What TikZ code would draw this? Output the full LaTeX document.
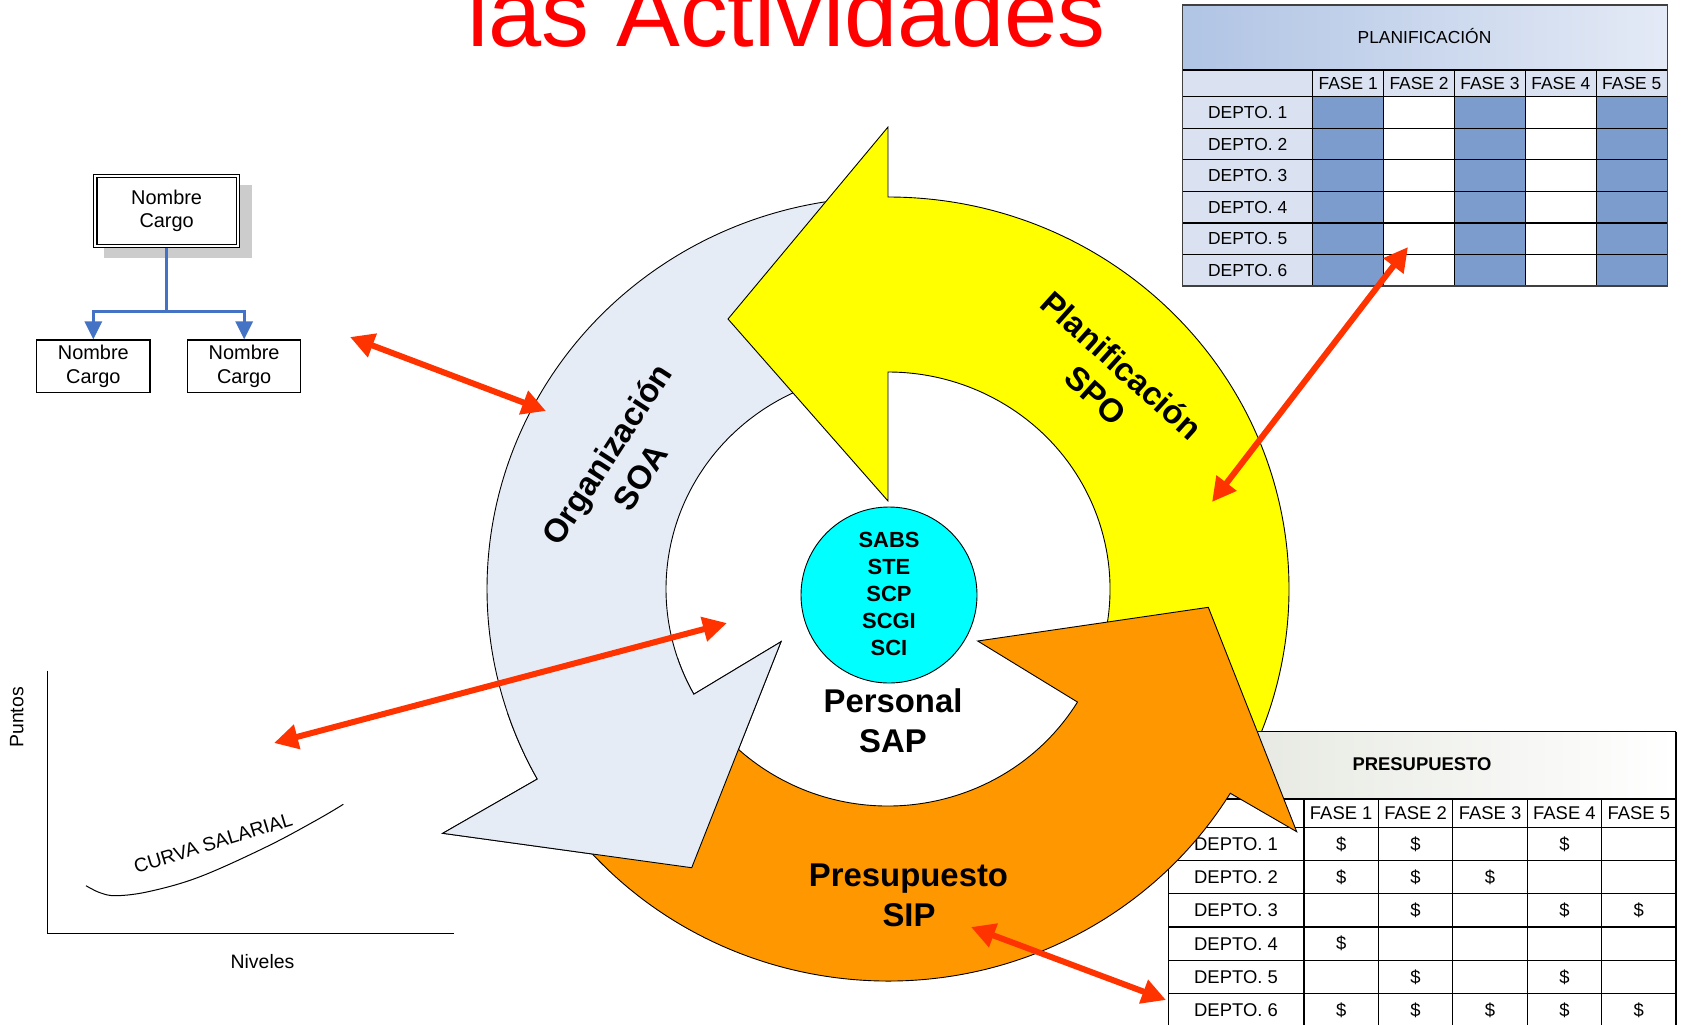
\documentclass[tikz,border=0pt]{standalone}
\usepackage{fontspec}
\setmainfont{Liberation Sans}
\usetikzlibrary{arrows.meta}
\definecolor{titlered}{RGB}{255,0,0}
\definecolor{ringblue}{RGB}{230,236,246}
\definecolor{ringyellow}{RGB}{255,255,0}
\definecolor{ringorange}{RGB}{255,152,0}
\definecolor{hubcyan}{RGB}{0,255,255}
\definecolor{linkred}{RGB}{255,51,0}
\definecolor{orgblue}{RGB}{68,114,196}
\definecolor{cellblue}{RGB}{124,156,206}
\definecolor{labelblue}{RGB}{218,226,241}
\definecolor{headblueL}{RGB}{176,196,228}
\definecolor{headblueR}{RGB}{228,234,246}
\definecolor{headgrayL}{RGB}{226,229,220}
\definecolor{shadowgray}{RGB}{204,204,204}
\newcommand{\pxfont}[1]{\fontsize{#1}{#1}\selectfont}
\begin{document}
\begin{tikzpicture}[x=1bp,y=-1bp,
  ringline/.style={draw=black, line width=0.9bp, line join=miter},
  biglabel/.style={font=\bfseries\pxfont{33}, inner sep=0pt, anchor=base},
  hublabel/.style={font=\bfseries\pxfont{22}, inner sep=0pt, anchor=base},
  link/.style={draw=linkred, line width=6bp, >={Triangle[length=24bp,width=24bp]}, <->},
  orgbox/.style={draw=black, line width=1.2bp, fill=white, minimum width=113.3bp, minimum height=52.3bp, inner sep=0pt, align=center, font=\fontsize{20}{23.5}\selectfont},
  orgline/.style={draw=orgblue, line width=3bp, -{Triangle[length=18bp,width=17bp]}},
  gridline/.style={draw=black, line width=1.2bp},
  celltext/.style={font=\pxfont{17.5}, inner sep=0pt},
  budgettext/.style={font=\pxfont{18.5}, inner sep=0pt},
  plotlabel/.style={font=\pxfont{19.5}, inner sep=0pt}
]
\useasboundingbox (0,0) rectangle (1684,1024);
\fill[white] (0,0) rectangle (1684,1024);
\clip (0,0) rectangle (1684,1024);

% ---------- title ----------
\node[font=\pxfont{96}, text=titlered, inner sep=0pt, anchor=base] (title) at (786.5,46) {las Actividades};

% ---------- org chart ----------
\fill[shadowgray] (104,185) rectangle (251.7,258.3);
\node[draw=black, line width=1.1bp, double, double distance=2bp, fill=white,
      minimum width=142.5bp, minimum height=69.5bp, inner sep=0pt, align=center,
      font=\fontsize{20}{24}\selectfont] (chief) at (166.65,210.85) {Nombre\\Cargo};
\node[orgbox] (subL) at (93.35,366.15) {Nombre\\Cargo};
\node[orgbox] (subR) at (244.15,366.15) {Nombre\\Cargo};
\coordinate (fork) at (166.65,311.7);
\draw[orgline] ([yshift=-2bp]chief.south) -- (fork) -| (subL.north);
\draw[orgline] (fork) -| (subR.north);

% ---------- salary chart ----------
\coordinate (axtop) at (47.7,670.7);
\coordinate (axorigin) at (47.7,933.3);
\coordinate (axright) at (454,933.3);
\draw[line width=1bp] (axtop) -- (axorigin) -- (axright);
\node[plotlabel, rotate=90] (ylab) at (16.7,717.5) {Puntos};
\node[plotlabel, anchor=base] (xlab) at (262.5,968.3) {Niveles};
\draw[line width=1bp] plot[smooth, tension=0.6] coordinates {(86,885.7) (100,892.7) (116.7,895.7) (150,891.3) (200,876.7) (266.7,846.7) (316.7,820) (343.3,804.3)};
\node[plotlabel, anchor=base, rotate=17] (curvelab) at (215,849.2) {CURVA SALARIAL};

% ---------- planning table ----------
\shade[left color=headblueL, right color=headblueR] (1182.7,5) rectangle (1667.3,70);
\fill[labelblue] (1182.7,70) rectangle (1667.3,96.7);
\fill[labelblue] (1182.7,96.7) rectangle (1312.7,286);
\fill[white] (1312.7,96.7) rectangle (1667.3,286);
\foreach \j in {0,2,4} \fill[cellblue] ({1312.7+70.9*\j},96.7) rectangle ({1312.7+70.9*(\j+1)},286);
\draw[gridline] (1182.7,70) -- (1667.3,70);
\foreach \i in {0,...,6} \draw[gridline] (1182.7,{96.7+31.55*\i}) -- (1667.3,{96.7+31.55*\i});
\foreach \j in {0,...,4} \draw[gridline] ({1312.7+70.9*\j},70) -- ({1312.7+70.9*\j},286);
\draw[gridline, draw=black!75] (1182.7,5) rectangle (1667.3,286);
\node[celltext, anchor=base] (planhead) at (1424.5,43.3) {PLANIFICACIÓN};
\foreach \j in {1,...,5} \node[celltext] (pf\j) at ({1312.7+70.9*(\j-0.5)},83.3) {FASE \j};
\foreach \i in {1,...,6} \node[celltext] (pd\i) at (1247.7,{96.7+31.55*(\i-0.5)}) {DEPTO. \i};

% ---------- cycle ----------
\def\bluepath{(265:401 and 392) arc[start angle=265, end angle=151, x radius=401, y radius=392] -- (-445.3,244.3) -- (-196.3,278.7) -- (-107,52.7) -- (151:222 and 217) arc[start angle=151, end angle=265, x radius=222, y radius=217] -- cycle}
\def\yellowpath{(270:401 and 392) arc[start angle=270, end angle=388, x radius=401, y radius=392] -- (28:222 and 217) arc[start angle=28, end angle=-90, x radius=222, y radius=217] -- (0,-88) -- (-160,-270) -- (0,-462) -- cycle}
\def\orangepath{(147:401 and 392) arc[start angle=147, end angle=31.4, x radius=401, y radius=392] -- (408.7,242.7) -- (320.3,18.3) -- (89.7,52) -- (31.4:222 and 217) arc[start angle=31.4, end angle=147, x radius=222, y radius=217] -- cycle}
\begin{scope}[shift={(888,589)}]
  \draw[ringline, fill=ringblue] \bluepath;
  \draw[ringline, fill=ringyellow] \yellowpath;
\end{scope}

% ---------- budget table ----------
\shade[left color=headgrayL, right color=white] (1168.3,731.7) rectangle (1676,799);
\fill[white] (1168.3,799) rectangle (1676,1030);
\draw[gridline] (1168.3,731.7) -- (1676,731.7);
\draw[gridline] (1168.3,799) -- (1676,799);
\foreach \i in {0,...,6} \draw[gridline] (1168.3,{827.3+33.25*\i}) -- (1676,{827.3+33.25*\i});
\draw[gridline] (1168.3,731.7) -- (1168.3,1030);
\draw[gridline] (1676,731.7) -- (1676,1030);
\foreach \j in {0,...,4} \draw[gridline] ({1304+74.4*\j},799) -- ({1304+74.4*\j},1030);
\node[budgettext, font=\bfseries\pxfont{18.5}] (budhead) at (1422,764) {PRESUPUESTO};
\foreach \j in {1,...,5} \node[budgettext] (bf\j) at ({1304+74.4*(\j-0.5)},813.2) {FASE \j};
\foreach \i in {1,...,6} \node[budgettext] (bd\i) at (1236,{827.3+33.25*(\i-0.5)}) {DEPTO. \i};
\foreach \r/\c in {1/1,1/2,1/4,2/1,2/2,2/3,3/2,3/4,3/5,4/1,5/2,5/4,6/1,6/2,6/3,6/4,6/5}
  \node[budgettext] (cash\r\c) at ({1304+74.4*(\c-0.5)},{827.3+33.25*(\r-0.5)}) {\$};

% ---------- cycle, front parts ----------
\begin{scope}[shift={(888,589)}]
  \draw[ringline, fill=ringorange] \orangepath;
  \begin{scope}
    \clip (0,0) -- (112:800) -- (136:900) -- (162:800) -- cycle;
    \draw[ringline, fill=ringblue] \bluepath;
  \end{scope}
\end{scope}

% ---------- hub ----------
\node[circle, draw=black, line width=0.9bp, fill=hubcyan, minimum size=176bp, inner sep=0pt] (hub) at (889,595) {};
\node[hublabel] (h1) at (889,547.3) {SABS};
\node[hublabel] (h2) at (889,574.3) {STE};
\node[hublabel] (h3) at (889,601.5) {SCP};
\node[hublabel] (h4) at (889,628.5) {SCGI};
\node[hublabel] (h5) at (889,655.7) {SCI};

% ---------- ring labels ----------
\node[biglabel, rotate=-42] (plan1) at (1114,374) {Planificación};
\node[biglabel, rotate=-42] (plan2) at (1088,404) {SPO};
\node[biglabel, rotate=57] (org1) at (616.7,460.5) {Organización};
\node[biglabel, rotate=57] (org2) at (650,483.2) {SOA};
\node[biglabel] (pers1) at (893,712.7) {Personal};
\node[biglabel] (pers2) at (893,752.7) {SAP};
\node[biglabel] (pres1) at (908.5,886.5) {Presupuesto};
\node[biglabel] (pres2) at (909,926.6) {SIP};

% ---------- red links ----------
\coordinate (l1a) at (350,337);   \coordinate (l1b) at (546,411);
\coordinate (l2a) at (274,743);   \coordinate (l2b) at (727,623);
\coordinate (l3a) at (1408,247);  \coordinate (l3b) at (1212,502);
\coordinate (l4a) at (971,927);   \coordinate (l4b) at (1166,1000);
\draw[link] (l1a) -- (l1b);
\draw[link] (l2a) -- (l2b);
\draw[link] (l3a) -- (l3b);
\draw[link] (l4a) -- (l4b);
\end{tikzpicture}
\end{document}
